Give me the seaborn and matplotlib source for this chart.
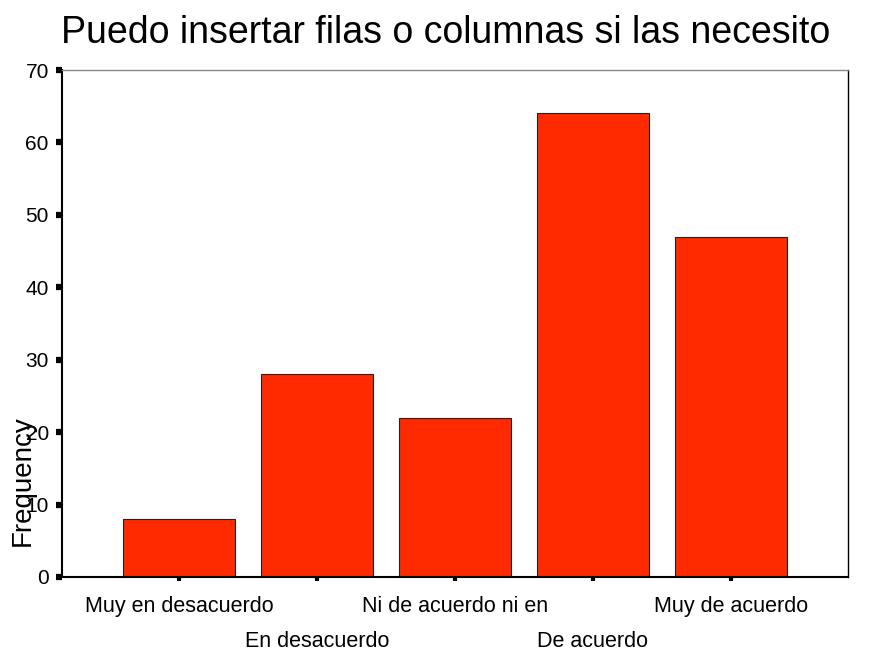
import matplotlib
matplotlib.use("Agg")
import matplotlib.pyplot as plt
import seaborn as sns
import pandas as pd

categories = ["Muy en desacuerdo", "En desacuerdo", "Ni de acuerdo ni en",
              "De acuerdo", "Muy de acuerdo"]
frequencies = [8, 28, 22, 64, 47]
yticks = [0, 10, 20, 30, 40, 50, 60, 70]
title = "Puedo insertar filas o columnas si las necesito"

sns.set_style("white")
plt.rcParams['font.family'] = ['Liberation Sans', 'DejaVu Sans']
plt.rcParams['text.color'] = 'black'
plt.rcParams['axes.labelcolor'] = 'black'
plt.rcParams['xtick.color'] = 'black'
plt.rcParams['ytick.color'] = 'black'

df = pd.DataFrame({"cat": categories, "freq": frequencies})

fig = plt.figure(figsize=(8.72, 6.52), dpi=100)
ax = fig.add_axes([62/872, 1-577/652, 786/872, 507/652])

sns.barplot(data=df, x="cat", y="freq", order=categories, color="#FF2A00",
            saturation=1, edgecolor="#222222", linewidth=0.8, width=0.81, ax=ax)

ax.set_xlim(-0.85, 4.85)
ax.set_ylim(0, 70)
ax.set_yticks(yticks)
ax.set_yticklabels([str(v) for v in yticks], fontsize=15)
ax.set_xticks(range(len(categories)))
ax.set_xticklabels(categories, fontsize=15.5)
ax.tick_params(axis='y', left=True, direction='out', length=4.5, width=4.5,
               color='black', labelcolor='black', pad=5)
ax.tick_params(axis='x', bottom=True, direction='out', length=3, width=3,
               color='black', labelcolor='black', pad=11)
for i, t in enumerate(ax.xaxis.get_major_ticks()):
    if i % 2 == 1:
        t.set_pad(36)

for s in ['left', 'bottom']:
    ax.spines[s].set_color('black')
    ax.spines[s].set_linewidth(1.5)
ax.spines['right'].set_color('black')
ax.spines['right'].set_linewidth(1.0)
ax.spines['top'].set_color('#888888')
ax.spines['top'].set_linewidth(1.0)

ax.set_xlabel("")
ax.set_ylabel("Frequency", fontsize=20, va='center', color='black')
ax.yaxis.set_label_coords(-0.050, 0.191)

fig.text(446/872, 1-33/652, title, ha='center', va='center', fontsize=27,
         color='black')

fig.savefig("out.png", dpi=100)
